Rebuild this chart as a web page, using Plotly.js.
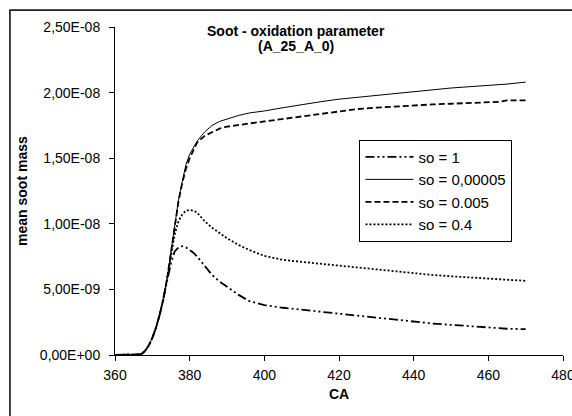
<!DOCTYPE html>
<html>
<head>
<meta charset="utf-8">
<script src="https://cdn.plot.ly/plotly-3.0.1.min.js"></script>
<style>html,body{margin:0;padding:0;background:#fff;}#chart{width:572px;height:416px;}</style>
</head>
<body>
<div id="chart"></div>
<script>
// Crank angle (CA)
const CA = [360,362,364,366,367,368,369,370,371,372,373,374,375,376,377,378,379,380,381,382,384,386,388,390,393,396,400,405,410,415,420,425,430,435,440,445,450,455,460,463,465,470];
// mean soot mass, in units of 1e-9
const so_1      = [0,0,0,0,0.05,0.3,0.7,1.3,2.1,3.1,4.3,5.7,7.0,7.9,8.2,8.3,8.2,8.0,7.8,7.5,6.8,6.1,5.6,5.2,4.6,4.1,3.8,3.6,3.45,3.3,3.15,3.0,2.85,2.7,2.5,2.4,2.3,2.2,2.1,2.05,2.0,1.97];
const so_00005  = [0,0,0,0,0.05,0.3,0.7,1.3,2.1,3.1,4.3,5.9,7.9,10.0,11.8,13.2,14.5,15.3,15.8,16.3,17.0,17.5,17.8,18.0,18.25,18.45,18.6,18.85,19.1,19.3,19.5,19.65,19.8,19.95,20.1,20.2,20.35,20.45,20.55,20.6,20.65,20.8];
const so_0005   = [0,0,0,0,0.05,0.3,0.7,1.3,2.1,3.1,4.3,5.9,7.9,10.0,11.7,13.1,14.2,15.0,15.6,16.2,16.7,17.0,17.25,17.4,17.55,17.65,17.8,18.0,18.2,18.4,18.55,18.75,18.85,18.95,19.0,19.1,19.15,19.2,19.25,19.3,19.4,19.4];
const so_04     = [0,0,0,0,0.05,0.3,0.7,1.3,2.1,3.1,4.3,5.9,7.6,9.2,10.2,10.7,11.0,11.05,11.0,10.85,10.2,9.7,9.3,8.9,8.4,8.0,7.55,7.25,7.1,6.95,6.85,6.7,6.55,6.4,6.2,6.1,6.0,5.9,5.8,5.75,5.7,5.65];

const seriesNames = ["so = 1","so = 0,00005","so = 0.005","so = 0.4"];
const xTickVals = [360,380,400,420,440,460,480];
const yTickVals = [0,5e-9,1e-8,1.5e-8,2e-8,2.5e-8];
const yTickText = ["0,00E+00","5,00E-09","1,00E-08","1,50E-08","2,00E-08","2,50E-08"];
const titleLine1 = "Soot - oxidation parameter";
const titleLine2 = "(A_25_A_0)";
const xTitle = "CA";
const yTitle = "mean soot mass";

const FONT = "Liberation Sans, Arial, sans-serif";
const scale = v => v.map(d => d * 1e-9);

const styles = [
  {dash: "9px,3px,2px,3px,2px,3px", width: 1.8},
  {dash: "solid", width: 1},
  {dash: "6px,3px", width: 1.8},
  {dash: "2px,2px", width: 1.8}
];
const vals = [so_1, so_00005, so_0005, so_04];

const traces = vals.map((v, i) => ({
  x: CA, y: scale(v), type: "scatter", mode: "lines", name: seriesNames[i],
  line: {color: "#000", width: styles[i].width, dash: styles[i].dash}
}));

const L = 115, R = 9.3, T = 26.5, B = 61;
const W = 572, H = 416;
const pw = W - L - R, ph = H - T - B;
const px2x = p => (p - L) / pw;
const py2y = p => (H - B - p) / ph;

const layout = {
  width: W, height: H,
  margin: {l: L, r: R, t: T, b: B, pad: 0},
  paper_bgcolor: "#fff", plot_bgcolor: "#fff",
  font: {family: FONT, size: 14, color: "#000"},
  showlegend: true,
  legend: {
    x: px2x(359.3), y: py2y(139.3), xanchor: "left", yanchor: "top",
    bordercolor: "#000", borderwidth: 1, bgcolor: "#fff",
    font: {family: FONT, size: 15, color: "#000"},
    tracegroupgap: 0, itemwidth: 48
  },
  xaxis: {
    range: [360, 480], tickvals: xTickVals, ticktext: xTickVals.map(String),
    showgrid: false, zeroline: false, showline: true, linecolor: "#000", linewidth: 1,
    ticks: "outside", ticklen: 5, tickcolor: "#000", tickwidth: 1,
    tickfont: {family: FONT, size: 14, color: "#000"}, ticklabelstandoff: 2,
    ticklabeloverflow: "allow"
  },
  yaxis: {
    range: [0, 2.5e-8], tickvals: yTickVals, ticktext: yTickText,
    showgrid: false, zeroline: false, showline: true, linecolor: "#000", linewidth: 1,
    ticks: "outside", ticklen: 5, tickcolor: "#000", tickwidth: 1,
    tickfont: {family: FONT, size: 14, color: "#000"}, ticklabelstandoff: 6,
    ticklabeloverflow: "allow"
  },
  annotations: [
    {text: "<b>" + titleLine1 + "</b>", xref: "paper", yref: "paper", x: px2x(296), y: py2y(31),
     xanchor: "center", yanchor: "middle", showarrow: false, font: {family: FONT, size: 14, color: "#000"}},
    {text: "<b>" + titleLine2 + "</b>", xref: "paper", yref: "paper", x: px2x(296), y: py2y(46),
     xanchor: "center", yanchor: "middle", showarrow: false, font: {family: FONT, size: 14, color: "#000"}},
    {text: "<b>" + xTitle + "</b>", xref: "paper", yref: "paper", x: 0.5, y: py2y(394),
     xanchor: "center", yanchor: "middle", showarrow: false, font: {family: FONT, size: 14, color: "#000"}},
    {text: "<b>" + yTitle + "</b>", xref: "paper", yref: "paper", x: px2x(22), y: 0.5, textangle: -90,
     xanchor: "center", yanchor: "middle", showarrow: false, font: {family: FONT, size: 14, color: "#000"}}
  ],
  shapes: [
    {type: "rect", xref: "paper", yref: "paper", x0: px2x(10), x1: px2x(600), y0: py2y(440), y1: py2y(9.5),
     line: {color: "#222", width: 1.7}, fillcolor: "rgba(0,0,0,0)", layer: "below"}
  ]
};

Plotly.newPlot("chart", traces, layout, {displayModeBar: false, staticPlot: true});
</script>
</body>
</html>
